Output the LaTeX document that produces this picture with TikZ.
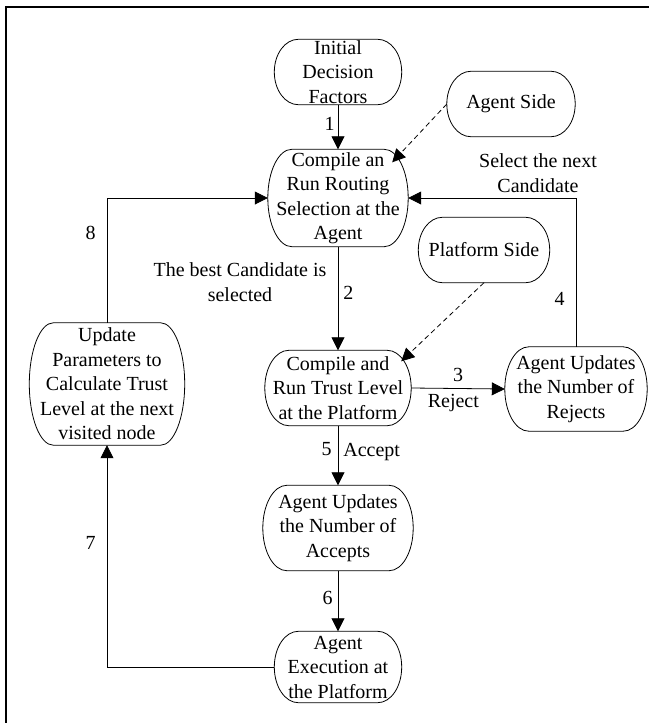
\documentclass[tikz,border=0pt]{standalone}
\usepackage{fontspec}
\setmainfont{Liberation Serif}
\usetikzlibrary{arrows.meta,calc}
\begin{document}
\begin{tikzpicture}[x=1pt,y=-1pt,
  every node/.style={font=\fontsize{20}{24.5}\selectfont},
  bx/.style={draw=none,inner sep=0pt,minimum width=#1},
  txt/.style={align=center,inner sep=0pt},
  lbl/.style={inner sep=3pt},
  arr/.style={line width=0.8pt,-{Triangle[length=13pt,width=13pt]}},
  darr/.style={arr,dash pattern=on 5pt off 3.5pt},
  outline/.style={line width=0.8pt},
  frame/.style={line width=2pt}]
\useasboundingbox (0,0) rectangle (649,723);
\draw[frame] (6,723) -- (6,7) -- (649,7);
% shapes
\node[bx=127pt,minimum height=65pt] (init) at (338,72) {};
\node[bx=128pt,minimum height=65pt] (as) at (511,104) {};
\node[bx=140pt,minimum height=97pt] (rt) at (338,198) {};
\node[bx=131pt,minimum height=65pt] (ps) at (484,250) {};
\node[bx=155pt,minimum height=122pt] (up) at (107,384) {};
\node[bx=146pt,minimum height=75pt] (tl) at (338,388) {};
\node[bx=142pt,minimum height=84pt] (rj) at (576,389) {};
\node[bx=150pt,minimum height=85pt] (ac) at (338,528) {};
\node[bx=127pt,minimum height=71pt] (ex) at (338,667) {};
\foreach \k in {init,as,rt,ps,up,tl,rj,ac,ex}{
  \draw[outline] let \p1=(\k.north west), \p2=(\k.south east), \n1={(\y1-\y2)/2} in
    (\x1+24pt,\y1) -- (\x2-24pt,\y1)
    arc[start angle=90,end angle=-90,x radius=24pt,y radius=\n1]
    -- (\x1+24pt,\y2)
    arc[start angle=270,end angle=90,x radius=24pt,y radius=\n1] -- cycle;
}
% texts
\node[txt] (init-t) at (init) {Initial\\Decision\\Factors};
\node[txt] (as-t) at (as) {Agent Side};
\node[txt] (rt-t) at (rt) {Compile an\\Run Routing\\Selection at the\\Agent};
\node[txt] (ps-t) at (ps) {Platform Side};
\node[txt] (up-t) at (up) {Update\\Parameters to\\Calculate Trust\\Level at the next\\visited node};
\node[txt] (tl-t) at (tl) {Compile and\\Run Trust Level\\at the Platform};
\node[txt] (rj-t) at (rj) {Agent Updates\\the Number of\\Rejects};
\node[txt] (ac-t) at (ac) {Agent Updates\\the Number of\\Accepts};
\node[txt] (ex-t) at (ex) {Agent\\Execution at\\the Platform};
\node[txt] (best) at (240,282) {The best Candidate is\\selected};
\node[txt] (next) at (538,173) {Select the next\\Candidate};
% connectors
\draw[arr] (init.south) -- node[lbl,left,pos=0.42]{1} (rt.north);
\draw[arr] (rt.south) -- node[lbl,right,pos=0.45,xshift=2pt]{2} (tl.north);
\draw[arr] (tl.east) -- node[lbl,above,pos=0.5,inner sep=6pt]{3} node[lbl,below,pos=0.45,inner sep=5pt]{Reject} (rj.west);
\draw[arr] (rj.north) |- node[lbl,left,pos=0.16,xshift=-8pt]{4} (rt.east);
\draw[arr] (tl.south) -- node[lbl,left,pos=0.4,xshift=-3pt]{5} node[lbl,right,pos=0.45,xshift=2pt]{Accept} (ac.north);
\draw[arr] (ac.south) -- node[lbl,left,pos=0.45,xshift=-2pt]{6} (ex.north);
\draw[arr] (ex.west) -| node[lbl,left,pos=0.78,xshift=-8pt]{7} (up.south);
\draw[arr] (up.north) |- node[lbl,left,pos=0.36,xshift=-8pt]{8} (rt.west);
\draw[darr] (as.west) -- ($(rt.north east)+(-16,13)$);
\draw[darr] (ps.south) -- ($(tl.north east)+(-10,11)$);
\end{tikzpicture}
\end{document}
